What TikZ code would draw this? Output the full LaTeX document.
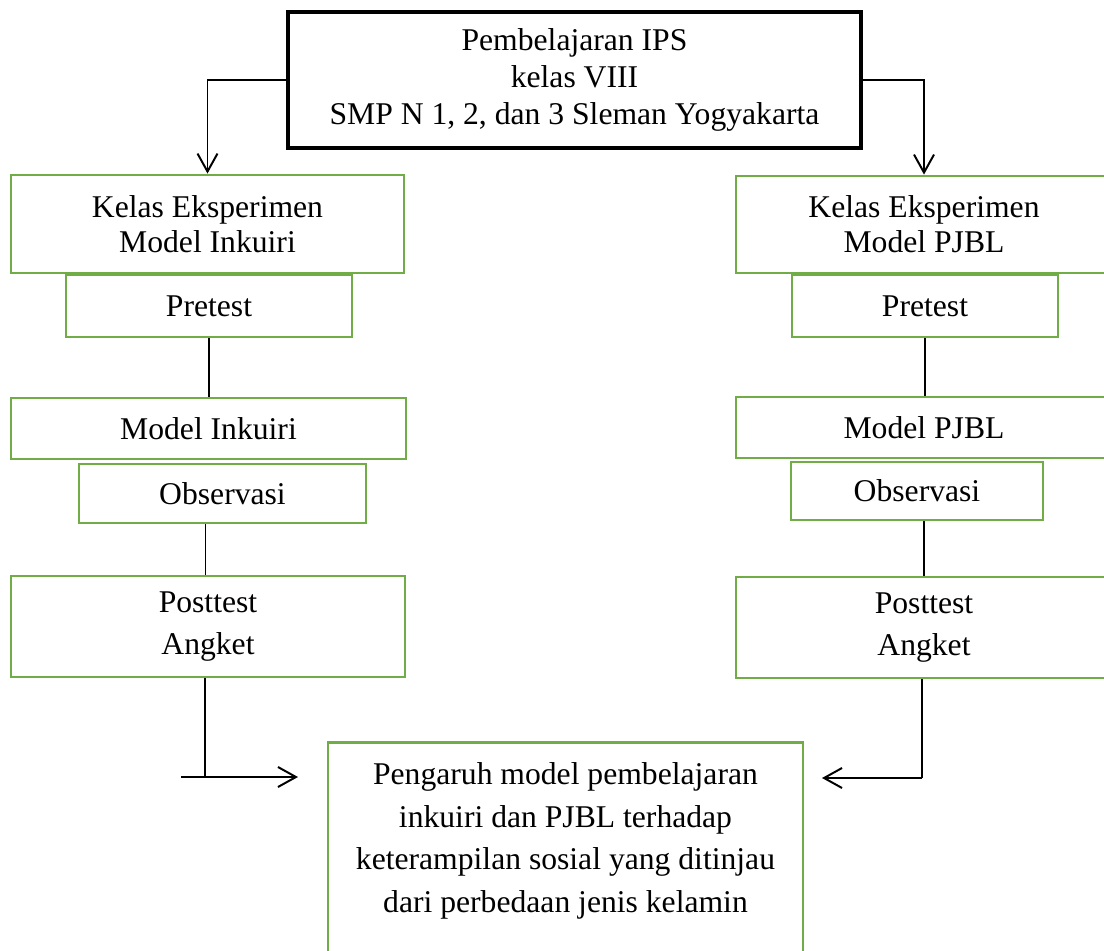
\documentclass[tikz,border=0pt]{standalone}
\usepackage{fontspec}
\setmainfont{Liberation Serif}
\usepackage{tikz}
\usetikzlibrary{arrows.meta,calc,positioning}
\definecolor{boxgreen}{RGB}{112,173,71}
\tikzset{>={Straight Barb[length=0.45cm,width=0.5cm]}}
\newcommand{\pxl}{0.025cm}

\begin{document}
\begin{tikzpicture}[x=0.025cm,y=-0.025cm,
    box/.style={draw=boxgreen, line width=2pt, inner sep=0pt, align=center,
      font=\fontsize{22.5}{24.8}\selectfont},
    topbox/.style={box, draw=black, line width=2.3pt, font=\fontsize{22.5}{26}\selectfont},
    wide/.style={font=\fontsize{22.5}{29.8}\selectfont},
    conn/.style={line width=0.8pt},
    arr/.style={->, line width=1.4pt}]
  \clip (0,0) rectangle (1104,951);

  \node (top) [topbox, minimum width=573*\pxl, minimum height=136*\pxl] at (574.5,80)
    {Pembelajaran IPS\\kelas VIII\\SMP N 1, 2, dan 3 Sleman Yogyakarta};

  % kelas inkuiri
  \node (ke1) [box, minimum width=393*\pxl, minimum height=98*\pxl] at (207.5,224)
    {Kelas Eksperimen\\Model Inkuiri};
  \node (pre1) [box, minimum width=286*\pxl, minimum height=62*\pxl] at (209,306) {Pretest};
  \node (mod1) [box, minimum width=395*\pxl, minimum height=61*\pxl] at (208.5,428.5) {Model Inkuiri};
  \node (obs1) [box, minimum width=287*\pxl, minimum height=59*\pxl] at (222.5,493.5) {Observasi};
  \node (post1) [box, wide, minimum width=394*\pxl, minimum height=101*\pxl] at (208,626.5)
    {Posttest\\Angket};

  % kelas PJBL
  \node (ke2) [box, minimum width=376*\pxl, minimum height=97*\pxl] at (924,224.5)
    {Kelas Eksperimen\\Model PJBL};
  \node (pre2) [box, minimum width=266*\pxl, minimum height=62*\pxl] at (925,306) {Pretest};
  \node (mod2) [box, minimum width=376*\pxl, minimum height=61*\pxl] at (924,427.5) {Model PJBL};
  \node (obs2) [box, minimum width=252*\pxl, minimum height=58*\pxl] at (917,491) {Observasi};
  \node (post2) [box, wide, minimum width=376*\pxl, minimum height=101*\pxl] at (924,627.5)
    {Posttest\\Angket};

  \node (res) [box, anchor=north, inner ysep=14.4pt, minimum width=475*\pxl] at (565.5,741)
    {\parbox[t][7cm][t]{11.8cm}{\centering\fontsize{22.5}{30.2}\selectfont
      Pengaruh model pembelajaran\\inkuiri dan PJBL terhadap\\
      keterampilan sosial yang ditinjau\\dari perbedaan jenis kelamin}};

  \coordinate (lb) at (181,777);
  \coordinate (la) at (298,777);
  \coordinate (ra) at (822,778);

  \draw[arr] (top.west) -| (ke1.north);
  \draw[arr] (top.east) -| (ke2.north);

  \draw[conn] (pre1.south) -- (pre1.south |- mod1.north);
  \draw[conn] ([xshift=-2.5*\pxl]post1.north) -- ([xshift=-2.5*\pxl]post1.north |- obs1.south);
  \draw[conn] (pre2.south) -- (pre2.south |- mod2.north);
  \draw[conn] (post2.north) -- (post2.north |- obs2.south);

  \draw[conn] ([xshift=-3*\pxl]post1.south) -- ([xshift=-3*\pxl]post1.south |- la);
  \draw[arr] (lb) -- (la);
  \draw[conn] ([xshift=-2*\pxl]post2.south) -- ([xshift=-2*\pxl]post2.south |- ra);
  \draw[arr] ([xshift=-2*\pxl]post2.south |- ra) -- (ra);
\end{tikzpicture}
\end{document}
